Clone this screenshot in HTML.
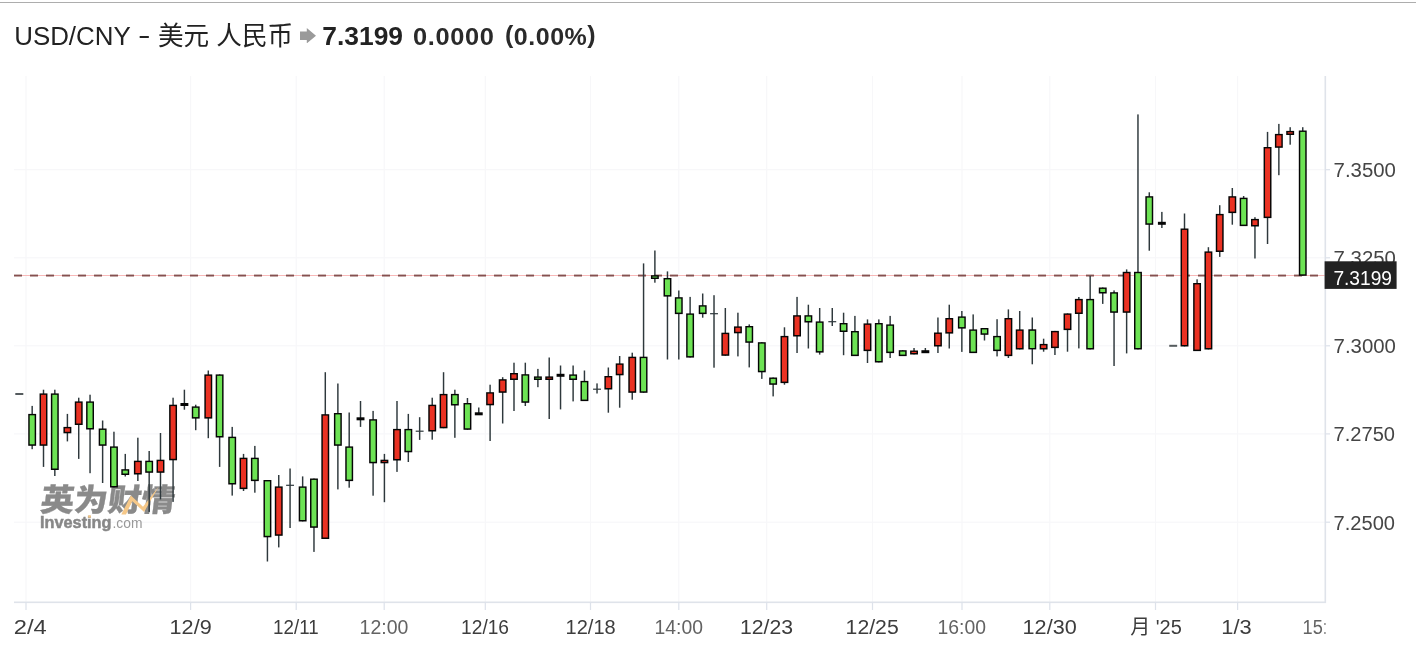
<!DOCTYPE html>
<html lang="zh-CN">
<head>
<meta charset="utf-8">
<title>USD/CNY - 美元 人民币</title>
<style>
html,body{margin:0;padding:0;background:#fff;}
body{width:1416px;height:654px;overflow:hidden;position:relative;font-family:"Liberation Sans","Noto Sans CJK SC",sans-serif;}
#topline{position:absolute;left:0;top:1.55px;width:1416px;height:1.1px;background:#adadad;}
#title{position:absolute;left:0;top:20px;height:32px;line-height:32px;white-space:nowrap;color:#222;font-size:25.9px;}
#title span,#title b{position:absolute;top:0;}
#title .sym{left:14.2px;}
#title .dash{left:138.1px;transform:scaleX(1.45);transform-origin:0 0;top:-1px;}
#title .cjk{font-size:25.6px;left:158px;top:-0.5px;}
#title b.px{font-size:26.4px;font-weight:700;left:322.3px;top:0.4px;}
#title b.chg{font-size:23.5px;font-weight:700;left:413.4px;top:1.2px;letter-spacing:0.6px;transform:scaleX(1.08);transform-origin:0 0;color:#2a2a2a;}
#title b.pct{font-size:23.5px;font-weight:700;left:504.6px;top:1.2px;letter-spacing:0.5px;transform:scaleX(1.063);transform-origin:0 0;color:#2a2a2a;}
#title i{font-style:normal;position:relative;top:-2.6px;}
#arrow{position:absolute;left:299.8px;top:27.8px;}
svg text{font-family:"Liberation Sans","Noto Sans CJK SC",sans-serif;font-size:20px;}
#chart{position:absolute;left:0;top:0;}
</style>
</head>
<body>
<div id="topline"></div>
<div id="title"><span class="sym">USD/CNY</span><span class="dash">-</span><span class="cjk">美元 人民币</span><b class="px">7.3199</b><b class="chg">0.0000</b><b class="pct"><i>(</i>0.00%<i>)</i></b></div>
<svg id="arrow" width="16" height="15.4" viewBox="0 0 16 15.4"><path d="M0 3.4h6.8V0l9.2 7.7-9.2 7.7v-3.4H0z" fill="#9a9a9a"/></svg>
<svg id="chart" width="1416" height="654" viewBox="0 0 1416 654">
<defs><clipPath id="plot"><rect x="14" y="70" width="1311.5" height="584"/></clipPath></defs>
<g id="grid">
<rect x="25.4" y="76" width="1.2" height="526" fill="#f7f7f9"/>
<rect x="190.0" y="76" width="1.2" height="526" fill="#f7f7f9"/>
<rect x="295.6" y="76" width="1.2" height="526" fill="#f7f7f9"/>
<rect x="383.6" y="76" width="1.2" height="526" fill="#f7f7f9"/>
<rect x="484.7" y="76" width="1.2" height="526" fill="#f7f7f9"/>
<rect x="589.9" y="76" width="1.2" height="526" fill="#f7f7f9"/>
<rect x="678.2" y="76" width="1.2" height="526" fill="#f7f7f9"/>
<rect x="766.1" y="76" width="1.2" height="526" fill="#f7f7f9"/>
<rect x="871.9" y="76" width="1.2" height="526" fill="#f7f7f9"/>
<rect x="961.4" y="76" width="1.2" height="526" fill="#f7f7f9"/>
<rect x="1049.2" y="76" width="1.2" height="526" fill="#f7f7f9"/>
<rect x="1154.9" y="76" width="1.2" height="526" fill="#f7f7f9"/>
<rect x="1237.0" y="76" width="1.2" height="526" fill="#f7f7f9"/>
<rect x="14" y="169.1" width="1311" height="1.2" fill="#f7f7f9"/>
<rect x="14" y="257.2" width="1311" height="1.2" fill="#f7f7f9"/>
<rect x="14" y="345.2" width="1311" height="1.2" fill="#f7f7f9"/>
<rect x="14" y="433.3" width="1311" height="1.2" fill="#f7f7f9"/>
<rect x="14" y="521.6" width="1311" height="1.2" fill="#f7f7f9"/>
</g>
<g id="wm">
<text x="39.5" y="511.3" fill="#8a8a8a" stroke="#8a8a8a" stroke-width="0.3" style="font-size:31px;font-weight:900;font-family:'Noto Sans CJK SC','Liberation Sans',sans-serif" transform="translate(39.5 511.3) skewX(-7) scale(1.085 1) translate(-39.5 -511.3)">英为财情</text>
<path d="M121.3 514.4 L130.9 495.5 L143 506.8 L158.8 486.5 L144.1 511.9 L132.3 501.2 L126 514.4z" fill="#f6c888"/>
<text x="40" y="528.4" fill="#878787" stroke="#878787" stroke-width="0.45" style="font-size:15.8px;font-weight:700" textLength="71.5" lengthAdjust="spacingAndGlyphs">Investing</text>
<text x="112.5" y="528.4" fill="#999" style="font-size:14.4px" textLength="30" lengthAdjust="spacingAndGlyphs">.com</text>
<rect x="88.2" y="515.3" width="2.6" height="2.4" fill="#f6c888"/>
</g>
<g id="priceline">
<rect x="14" y="275" width="1311" height="1" fill="#f8b9b9"/>
<rect x="14.0" y="274.6" width="8.0" height="1.9" fill="#85504f"/>
<rect x="30.0" y="274.6" width="8.0" height="1.9" fill="#85504f"/>
<rect x="46.0" y="274.6" width="8.0" height="1.9" fill="#85504f"/>
<rect x="62.0" y="274.6" width="8.0" height="1.9" fill="#85504f"/>
<rect x="78.0" y="274.6" width="8.0" height="1.9" fill="#85504f"/>
<rect x="94.0" y="274.6" width="8.0" height="1.9" fill="#85504f"/>
<rect x="110.0" y="274.6" width="8.0" height="1.9" fill="#85504f"/>
<rect x="126.0" y="274.6" width="8.0" height="1.9" fill="#85504f"/>
<rect x="142.0" y="274.6" width="8.0" height="1.9" fill="#85504f"/>
<rect x="158.0" y="274.6" width="8.0" height="1.9" fill="#85504f"/>
<rect x="174.0" y="274.6" width="8.0" height="1.9" fill="#85504f"/>
<rect x="190.0" y="274.6" width="8.0" height="1.9" fill="#85504f"/>
<rect x="206.0" y="274.6" width="8.0" height="1.9" fill="#85504f"/>
<rect x="222.0" y="274.6" width="8.0" height="1.9" fill="#85504f"/>
<rect x="238.0" y="274.6" width="8.0" height="1.9" fill="#85504f"/>
<rect x="254.0" y="274.6" width="8.0" height="1.9" fill="#85504f"/>
<rect x="270.0" y="274.6" width="8.0" height="1.9" fill="#85504f"/>
<rect x="286.0" y="274.6" width="8.0" height="1.9" fill="#85504f"/>
<rect x="302.0" y="274.6" width="8.0" height="1.9" fill="#85504f"/>
<rect x="318.0" y="274.6" width="8.0" height="1.9" fill="#85504f"/>
<rect x="334.0" y="274.6" width="8.0" height="1.9" fill="#85504f"/>
<rect x="350.0" y="274.6" width="8.0" height="1.9" fill="#85504f"/>
<rect x="366.0" y="274.6" width="8.0" height="1.9" fill="#85504f"/>
<rect x="382.0" y="274.6" width="8.0" height="1.9" fill="#85504f"/>
<rect x="398.0" y="274.6" width="8.0" height="1.9" fill="#85504f"/>
<rect x="414.0" y="274.6" width="8.0" height="1.9" fill="#85504f"/>
<rect x="430.0" y="274.6" width="8.0" height="1.9" fill="#85504f"/>
<rect x="446.0" y="274.6" width="8.0" height="1.9" fill="#85504f"/>
<rect x="462.0" y="274.6" width="8.0" height="1.9" fill="#85504f"/>
<rect x="478.0" y="274.6" width="8.0" height="1.9" fill="#85504f"/>
<rect x="494.0" y="274.6" width="8.0" height="1.9" fill="#85504f"/>
<rect x="510.0" y="274.6" width="8.0" height="1.9" fill="#85504f"/>
<rect x="526.0" y="274.6" width="8.0" height="1.9" fill="#85504f"/>
<rect x="542.0" y="274.6" width="8.0" height="1.9" fill="#85504f"/>
<rect x="558.0" y="274.6" width="8.0" height="1.9" fill="#85504f"/>
<rect x="574.0" y="274.6" width="8.0" height="1.9" fill="#85504f"/>
<rect x="590.0" y="274.6" width="8.0" height="1.9" fill="#85504f"/>
<rect x="606.0" y="274.6" width="8.0" height="1.9" fill="#85504f"/>
<rect x="622.0" y="274.6" width="8.0" height="1.9" fill="#85504f"/>
<rect x="638.0" y="274.6" width="8.0" height="1.9" fill="#85504f"/>
<rect x="654.0" y="274.6" width="8.0" height="1.9" fill="#85504f"/>
<rect x="670.0" y="274.6" width="8.0" height="1.9" fill="#85504f"/>
<rect x="686.0" y="274.6" width="8.0" height="1.9" fill="#85504f"/>
<rect x="702.0" y="274.6" width="8.0" height="1.9" fill="#85504f"/>
<rect x="718.0" y="274.6" width="8.0" height="1.9" fill="#85504f"/>
<rect x="734.0" y="274.6" width="8.0" height="1.9" fill="#85504f"/>
<rect x="750.0" y="274.6" width="8.0" height="1.9" fill="#85504f"/>
<rect x="766.0" y="274.6" width="8.0" height="1.9" fill="#85504f"/>
<rect x="782.0" y="274.6" width="8.0" height="1.9" fill="#85504f"/>
<rect x="798.0" y="274.6" width="8.0" height="1.9" fill="#85504f"/>
<rect x="814.0" y="274.6" width="8.0" height="1.9" fill="#85504f"/>
<rect x="830.0" y="274.6" width="8.0" height="1.9" fill="#85504f"/>
<rect x="846.0" y="274.6" width="8.0" height="1.9" fill="#85504f"/>
<rect x="862.0" y="274.6" width="8.0" height="1.9" fill="#85504f"/>
<rect x="878.0" y="274.6" width="8.0" height="1.9" fill="#85504f"/>
<rect x="894.0" y="274.6" width="8.0" height="1.9" fill="#85504f"/>
<rect x="910.0" y="274.6" width="8.0" height="1.9" fill="#85504f"/>
<rect x="926.0" y="274.6" width="8.0" height="1.9" fill="#85504f"/>
<rect x="942.0" y="274.6" width="8.0" height="1.9" fill="#85504f"/>
<rect x="958.0" y="274.6" width="8.0" height="1.9" fill="#85504f"/>
<rect x="974.0" y="274.6" width="8.0" height="1.9" fill="#85504f"/>
<rect x="990.0" y="274.6" width="8.0" height="1.9" fill="#85504f"/>
<rect x="1006.0" y="274.6" width="8.0" height="1.9" fill="#85504f"/>
<rect x="1022.0" y="274.6" width="8.0" height="1.9" fill="#85504f"/>
<rect x="1038.0" y="274.6" width="8.0" height="1.9" fill="#85504f"/>
<rect x="1054.0" y="274.6" width="8.0" height="1.9" fill="#85504f"/>
<rect x="1070.0" y="274.6" width="8.0" height="1.9" fill="#85504f"/>
<rect x="1086.0" y="274.6" width="8.0" height="1.9" fill="#85504f"/>
<rect x="1102.0" y="274.6" width="8.0" height="1.9" fill="#85504f"/>
<rect x="1118.0" y="274.6" width="8.0" height="1.9" fill="#85504f"/>
<rect x="1134.0" y="274.6" width="8.0" height="1.9" fill="#85504f"/>
<rect x="1150.0" y="274.6" width="8.0" height="1.9" fill="#85504f"/>
<rect x="1166.0" y="274.6" width="8.0" height="1.9" fill="#85504f"/>
<rect x="1182.0" y="274.6" width="8.0" height="1.9" fill="#85504f"/>
<rect x="1198.0" y="274.6" width="8.0" height="1.9" fill="#85504f"/>
<rect x="1214.0" y="274.6" width="8.0" height="1.9" fill="#85504f"/>
<rect x="1230.0" y="274.6" width="8.0" height="1.9" fill="#85504f"/>
<rect x="1246.0" y="274.6" width="8.0" height="1.9" fill="#85504f"/>
<rect x="1262.0" y="274.6" width="8.0" height="1.9" fill="#85504f"/>
<rect x="1278.0" y="274.6" width="8.0" height="1.9" fill="#85504f"/>
<rect x="1294.0" y="274.6" width="8.0" height="1.9" fill="#85504f"/>
<rect x="1310.0" y="274.6" width="8.0" height="1.9" fill="#85504f"/>
</g>
<g id="candles" clip-path="url(#plot)">
<rect x="15.3" y="393" width="8" height="2" fill="#555b5e"/>
<rect x="31.45" y="405.9" width="1.45" height="43.3" fill="#2e383c"/>
<rect x="28.23" y="413.9" width="7.9" height="31.9" fill="#050505"/>
<rect x="29.68" y="415.3" width="5.00" height="29.0" fill="#6de354"/>
<rect x="42.78" y="389.7" width="1.45" height="77.2" fill="#2e383c"/>
<rect x="39.55" y="393.4" width="7.9" height="52.4" fill="#050505"/>
<rect x="41.00" y="394.8" width="5.00" height="49.5" fill="#ea3223"/>
<rect x="54.10" y="389.7" width="1.45" height="86.3" fill="#2e383c"/>
<rect x="50.87" y="393.4" width="7.9" height="76.6" fill="#050505"/>
<rect x="52.32" y="394.8" width="5.00" height="73.7" fill="#6de354"/>
<rect x="66.68" y="413.9" width="1.45" height="27.5" fill="#2e383c"/>
<rect x="63.45" y="426.9" width="7.9" height="6.4" fill="#050505"/>
<rect x="64.90" y="428.3" width="5.00" height="3.5" fill="#ea3223"/>
<rect x="78.00" y="397.7" width="1.45" height="61.2" fill="#2e383c"/>
<rect x="74.78" y="401.4" width="7.9" height="23.6" fill="#050505"/>
<rect x="76.23" y="402.8" width="5.00" height="20.7" fill="#ea3223"/>
<rect x="89.32" y="394.7" width="1.45" height="78.5" fill="#2e383c"/>
<rect x="86.10" y="401.4" width="7.9" height="28.1" fill="#050505"/>
<rect x="87.55" y="402.8" width="5.00" height="25.2" fill="#6de354"/>
<rect x="101.90" y="420.5" width="1.45" height="62.5" fill="#2e383c"/>
<rect x="98.68" y="428.5" width="7.9" height="17.3" fill="#050505"/>
<rect x="100.13" y="429.9" width="5.00" height="14.4" fill="#6de354"/>
<rect x="113.22" y="431.7" width="1.45" height="55.7" fill="#2e383c"/>
<rect x="110.00" y="446.4" width="7.9" height="41.1" fill="#050505"/>
<rect x="111.45" y="447.8" width="5.00" height="38.2" fill="#6de354"/>
<rect x="124.55" y="453.9" width="1.45" height="22.6" fill="#2e383c"/>
<rect x="121.32" y="469.2" width="7.9" height="5.8" fill="#050505"/>
<rect x="122.77" y="470.6" width="5.00" height="2.9" fill="#6de354"/>
<rect x="137.13" y="437.7" width="1.45" height="43.3" fill="#2e383c"/>
<rect x="133.90" y="460.7" width="7.9" height="13.8" fill="#050505"/>
<rect x="135.35" y="462.1" width="5.00" height="10.9" fill="#ea3223"/>
<rect x="148.45" y="451.0" width="1.45" height="60.9" fill="#2e383c"/>
<rect x="145.22" y="460.7" width="7.9" height="12.1" fill="#050505"/>
<rect x="146.67" y="462.1" width="5.00" height="9.2" fill="#6de354"/>
<rect x="159.77" y="433.0" width="1.45" height="66.4" fill="#2e383c"/>
<rect x="156.55" y="459.7" width="7.9" height="13.1" fill="#050505"/>
<rect x="158.00" y="461.1" width="5.00" height="10.2" fill="#ea3223"/>
<rect x="172.35" y="397.7" width="1.45" height="104.2" fill="#2e383c"/>
<rect x="169.13" y="404.7" width="7.9" height="55.6" fill="#050505"/>
<rect x="170.58" y="406.1" width="5.00" height="52.7" fill="#ea3223"/>
<rect x="183.67" y="389.7" width="1.45" height="20.0" fill="#2e383c"/>
<rect x="180.45" y="403.0" width="7.9" height="3" fill="#050505"/>
<rect x="194.99" y="404.7" width="1.45" height="25.5" fill="#2e383c"/>
<rect x="191.77" y="406.4" width="7.9" height="12.2" fill="#050505"/>
<rect x="193.22" y="407.8" width="5.00" height="9.3" fill="#6de354"/>
<rect x="207.57" y="370.5" width="1.45" height="67.7" fill="#2e383c"/>
<rect x="204.35" y="374.4" width="7.9" height="44.2" fill="#050505"/>
<rect x="205.80" y="375.8" width="5.00" height="41.3" fill="#ea3223"/>
<rect x="218.90" y="374.4" width="1.45" height="92.5" fill="#2e383c"/>
<rect x="215.67" y="374.4" width="7.9" height="63.1" fill="#050505"/>
<rect x="217.12" y="375.8" width="5.00" height="60.2" fill="#6de354"/>
<rect x="231.48" y="426.9" width="1.45" height="68.7" fill="#2e383c"/>
<rect x="228.25" y="436.7" width="7.9" height="47.8" fill="#050505"/>
<rect x="229.70" y="438.1" width="5.00" height="44.9" fill="#6de354"/>
<rect x="242.80" y="453.9" width="1.45" height="37.1" fill="#2e383c"/>
<rect x="239.57" y="457.7" width="7.9" height="31.4" fill="#050505"/>
<rect x="241.02" y="459.1" width="5.00" height="28.5" fill="#ea3223"/>
<rect x="254.12" y="445.9" width="1.45" height="46.8" fill="#2e383c"/>
<rect x="250.90" y="457.7" width="7.9" height="23.4" fill="#050505"/>
<rect x="252.35" y="459.1" width="5.00" height="20.5" fill="#6de354"/>
<rect x="266.70" y="480.0" width="1.45" height="81.5" fill="#2e383c"/>
<rect x="263.48" y="480.0" width="7.9" height="57.3" fill="#050505"/>
<rect x="264.93" y="481.4" width="5.00" height="54.4" fill="#6de354"/>
<rect x="278.02" y="475.0" width="1.45" height="72.4" fill="#2e383c"/>
<rect x="274.80" y="486.4" width="7.9" height="49.4" fill="#050505"/>
<rect x="276.25" y="487.8" width="5.00" height="46.5" fill="#ea3223"/>
<rect x="289.34" y="468.5" width="1.45" height="59.5" fill="#2e383c"/>
<rect x="286.12" y="484.7" width="7.9" height="1.2" fill="#2e383c"/>
<rect x="301.92" y="476.4" width="1.45" height="45.0" fill="#2e383c"/>
<rect x="298.70" y="486.4" width="7.9" height="35.1" fill="#050505"/>
<rect x="300.15" y="487.8" width="5.00" height="32.2" fill="#6de354"/>
<rect x="313.25" y="478.5" width="1.45" height="73.4" fill="#2e383c"/>
<rect x="310.02" y="478.5" width="7.9" height="49.3" fill="#050505"/>
<rect x="311.47" y="479.9" width="5.00" height="46.4" fill="#6de354"/>
<rect x="324.57" y="372.2" width="1.45" height="166.7" fill="#2e383c"/>
<rect x="321.34" y="414.2" width="7.9" height="124.8" fill="#050505"/>
<rect x="322.79" y="415.6" width="5.00" height="121.9" fill="#ea3223"/>
<rect x="337.15" y="383.5" width="1.45" height="105.9" fill="#2e383c"/>
<rect x="333.92" y="413.0" width="7.9" height="32.8" fill="#050505"/>
<rect x="335.37" y="414.4" width="5.00" height="29.9" fill="#6de354"/>
<rect x="348.47" y="412.5" width="1.45" height="75.2" fill="#2e383c"/>
<rect x="345.25" y="446.4" width="7.9" height="34.7" fill="#050505"/>
<rect x="346.70" y="447.8" width="5.00" height="31.8" fill="#6de354"/>
<rect x="359.79" y="401.0" width="1.45" height="25.9" fill="#2e383c"/>
<rect x="356.57" y="417.3" width="7.9" height="3" fill="#050505"/>
<rect x="372.37" y="410.9" width="1.45" height="84.8" fill="#2e383c"/>
<rect x="369.15" y="419.2" width="7.9" height="44.1" fill="#050505"/>
<rect x="370.60" y="420.6" width="5.00" height="41.2" fill="#6de354"/>
<rect x="383.69" y="453.9" width="1.45" height="48.3" fill="#2e383c"/>
<rect x="380.47" y="459.7" width="7.9" height="3.6" fill="#050505"/>
<rect x="381.92" y="461.1" width="5.00" height="0.7" fill="#ea3223"/>
<rect x="396.27" y="401.0" width="1.45" height="70.9" fill="#2e383c"/>
<rect x="393.05" y="428.9" width="7.9" height="31.6" fill="#050505"/>
<rect x="394.50" y="430.3" width="5.00" height="28.7" fill="#ea3223"/>
<rect x="407.60" y="413.9" width="1.45" height="48.1" fill="#2e383c"/>
<rect x="404.37" y="428.9" width="7.9" height="23.4" fill="#050505"/>
<rect x="405.82" y="430.3" width="5.00" height="20.5" fill="#6de354"/>
<rect x="418.92" y="417.2" width="1.45" height="22.7" fill="#2e383c"/>
<rect x="415.69" y="430.6" width="7.9" height="1.2" fill="#2e383c"/>
<rect x="431.50" y="397.7" width="1.45" height="42.0" fill="#2e383c"/>
<rect x="428.27" y="404.7" width="7.9" height="26.8" fill="#050505"/>
<rect x="429.72" y="406.1" width="5.00" height="23.9" fill="#ea3223"/>
<rect x="442.82" y="372.2" width="1.45" height="56.0" fill="#2e383c"/>
<rect x="439.60" y="393.9" width="7.9" height="34.4" fill="#050505"/>
<rect x="441.05" y="395.3" width="5.00" height="31.5" fill="#ea3223"/>
<rect x="454.14" y="389.7" width="1.45" height="48.1" fill="#2e383c"/>
<rect x="450.92" y="393.9" width="7.9" height="11.6" fill="#050505"/>
<rect x="452.37" y="395.3" width="5.00" height="8.7" fill="#6de354"/>
<rect x="466.72" y="398.0" width="1.45" height="31.7" fill="#2e383c"/>
<rect x="463.50" y="403.0" width="7.9" height="26.8" fill="#050505"/>
<rect x="464.95" y="404.4" width="5.00" height="23.9" fill="#6de354"/>
<rect x="478.04" y="407.5" width="1.45" height="6.5" fill="#2e383c"/>
<rect x="474.82" y="412.3" width="7.9" height="3" fill="#050505"/>
<rect x="489.37" y="384.7" width="1.45" height="56.3" fill="#2e383c"/>
<rect x="486.14" y="392.2" width="7.9" height="13.1" fill="#050505"/>
<rect x="487.59" y="393.6" width="5.00" height="10.2" fill="#ea3223"/>
<rect x="501.95" y="377.2" width="1.45" height="46.3" fill="#2e383c"/>
<rect x="498.72" y="379.2" width="7.9" height="13.6" fill="#050505"/>
<rect x="500.17" y="380.6" width="5.00" height="10.7" fill="#ea3223"/>
<rect x="513.27" y="362.7" width="1.45" height="48.3" fill="#2e383c"/>
<rect x="510.04" y="373.0" width="7.9" height="7.0" fill="#050505"/>
<rect x="511.49" y="374.4" width="5.00" height="4.1" fill="#ea3223"/>
<rect x="524.59" y="362.7" width="1.45" height="43.3" fill="#2e383c"/>
<rect x="521.37" y="374.2" width="7.9" height="28.6" fill="#050505"/>
<rect x="522.82" y="375.6" width="5.00" height="25.7" fill="#6de354"/>
<rect x="537.17" y="368.9" width="1.45" height="18.3" fill="#2e383c"/>
<rect x="533.95" y="376.4" width="7.9" height="3.6" fill="#050505"/>
<rect x="535.40" y="377.8" width="5.00" height="0.7" fill="#6de354"/>
<rect x="548.49" y="357.5" width="1.45" height="61.5" fill="#2e383c"/>
<rect x="545.27" y="376.4" width="7.9" height="3.6" fill="#050505"/>
<rect x="546.72" y="377.8" width="5.00" height="0.7" fill="#ea3223"/>
<rect x="559.81" y="365.5" width="1.45" height="43.9" fill="#2e383c"/>
<rect x="556.59" y="373.8" width="7.9" height="3" fill="#050505"/>
<rect x="572.39" y="365.5" width="1.45" height="35.9" fill="#2e383c"/>
<rect x="569.17" y="374.4" width="7.9" height="5.6" fill="#050505"/>
<rect x="570.62" y="375.8" width="5.00" height="2.7" fill="#6de354"/>
<rect x="583.72" y="370.5" width="1.45" height="30.5" fill="#2e383c"/>
<rect x="580.49" y="380.9" width="7.9" height="20.2" fill="#050505"/>
<rect x="581.94" y="382.3" width="5.00" height="17.3" fill="#6de354"/>
<rect x="596.30" y="383.4" width="1.45" height="10.1" fill="#2e383c"/>
<rect x="593.07" y="388.6" width="7.9" height="1.2" fill="#2e383c"/>
<rect x="607.62" y="367.5" width="1.45" height="45.2" fill="#2e383c"/>
<rect x="604.39" y="376.0" width="7.9" height="13.5" fill="#050505"/>
<rect x="605.84" y="377.4" width="5.00" height="10.6" fill="#ea3223"/>
<rect x="618.94" y="356.0" width="1.45" height="51.7" fill="#2e383c"/>
<rect x="615.72" y="363.4" width="7.9" height="11.9" fill="#050505"/>
<rect x="617.17" y="364.8" width="5.00" height="9.0" fill="#ea3223"/>
<rect x="631.52" y="352.7" width="1.45" height="47.0" fill="#2e383c"/>
<rect x="628.30" y="356.7" width="7.9" height="36.1" fill="#050505"/>
<rect x="629.75" y="358.1" width="5.00" height="33.2" fill="#ea3223"/>
<rect x="642.84" y="263.4" width="1.45" height="129.3" fill="#2e383c"/>
<rect x="639.62" y="356.7" width="7.9" height="36.1" fill="#050505"/>
<rect x="641.07" y="358.1" width="5.00" height="33.2" fill="#6de354"/>
<rect x="654.16" y="250.5" width="1.45" height="32.2" fill="#2e383c"/>
<rect x="650.94" y="275.2" width="7.9" height="3.8" fill="#050505"/>
<rect x="652.39" y="276.6" width="5.00" height="0.9" fill="#6de354"/>
<rect x="666.74" y="271.4" width="1.45" height="88.1" fill="#2e383c"/>
<rect x="663.52" y="278.0" width="7.9" height="18.6" fill="#050505"/>
<rect x="664.97" y="279.4" width="5.00" height="15.7" fill="#6de354"/>
<rect x="678.07" y="290.5" width="1.45" height="69.0" fill="#2e383c"/>
<rect x="674.84" y="297.2" width="7.9" height="16.9" fill="#050505"/>
<rect x="676.29" y="298.6" width="5.00" height="14.0" fill="#6de354"/>
<rect x="689.39" y="296.9" width="1.45" height="60.6" fill="#2e383c"/>
<rect x="686.16" y="313.4" width="7.9" height="44.2" fill="#050505"/>
<rect x="687.61" y="314.8" width="5.00" height="41.3" fill="#6de354"/>
<rect x="701.97" y="293.5" width="1.45" height="24.2" fill="#2e383c"/>
<rect x="698.74" y="305.2" width="7.9" height="8.9" fill="#050505"/>
<rect x="700.19" y="306.6" width="5.00" height="6.0" fill="#6de354"/>
<rect x="713.29" y="295.2" width="1.45" height="72.5" fill="#2e383c"/>
<rect x="710.07" y="313.1" width="7.9" height="1.2" fill="#2e383c"/>
<rect x="724.61" y="308.0" width="1.45" height="47.7" fill="#2e383c"/>
<rect x="721.39" y="332.7" width="7.9" height="23.1" fill="#050505"/>
<rect x="722.84" y="334.1" width="5.00" height="20.2" fill="#ea3223"/>
<rect x="737.19" y="312.7" width="1.45" height="43.7" fill="#2e383c"/>
<rect x="733.97" y="326.4" width="7.9" height="6.9" fill="#050505"/>
<rect x="735.42" y="327.8" width="5.00" height="4.0" fill="#ea3223"/>
<rect x="748.51" y="324.4" width="1.45" height="43.0" fill="#2e383c"/>
<rect x="745.29" y="326.0" width="7.9" height="16.8" fill="#050505"/>
<rect x="746.74" y="327.4" width="5.00" height="13.9" fill="#6de354"/>
<rect x="761.09" y="342.2" width="1.45" height="36.7" fill="#2e383c"/>
<rect x="757.87" y="342.2" width="7.9" height="30.1" fill="#050505"/>
<rect x="759.32" y="343.6" width="5.00" height="27.2" fill="#6de354"/>
<rect x="772.42" y="377.5" width="1.45" height="18.9" fill="#2e383c"/>
<rect x="769.19" y="377.5" width="7.9" height="7.3" fill="#050505"/>
<rect x="770.64" y="378.9" width="5.00" height="4.4" fill="#6de354"/>
<rect x="783.74" y="327.3" width="1.45" height="57.4" fill="#2e383c"/>
<rect x="780.51" y="335.9" width="7.9" height="47.2" fill="#050505"/>
<rect x="781.96" y="337.3" width="5.00" height="44.3" fill="#ea3223"/>
<rect x="796.32" y="296.9" width="1.45" height="56.1" fill="#2e383c"/>
<rect x="793.09" y="315.2" width="7.9" height="21.3" fill="#050505"/>
<rect x="794.54" y="316.6" width="5.00" height="18.4" fill="#ea3223"/>
<rect x="807.64" y="304.7" width="1.45" height="43.8" fill="#2e383c"/>
<rect x="804.42" y="315.2" width="7.9" height="7.3" fill="#050505"/>
<rect x="805.87" y="316.6" width="5.00" height="4.4" fill="#6de354"/>
<rect x="818.96" y="308.0" width="1.45" height="46.6" fill="#2e383c"/>
<rect x="815.74" y="321.4" width="7.9" height="31.2" fill="#050505"/>
<rect x="817.19" y="322.8" width="5.00" height="28.3" fill="#6de354"/>
<rect x="831.54" y="308.0" width="1.45" height="18.0" fill="#2e383c"/>
<rect x="828.32" y="321.1" width="7.9" height="1.2" fill="#2e383c"/>
<rect x="842.86" y="312.7" width="1.45" height="42.5" fill="#2e383c"/>
<rect x="839.64" y="323.0" width="7.9" height="9.0" fill="#050505"/>
<rect x="841.09" y="324.4" width="5.00" height="6.1" fill="#6de354"/>
<rect x="854.19" y="315.9" width="1.45" height="40.1" fill="#2e383c"/>
<rect x="850.96" y="331.0" width="7.9" height="25.1" fill="#050505"/>
<rect x="852.41" y="332.4" width="5.00" height="22.2" fill="#6de354"/>
<rect x="866.77" y="319.4" width="1.45" height="43.6" fill="#2e383c"/>
<rect x="863.54" y="323.4" width="7.9" height="27.7" fill="#050505"/>
<rect x="864.99" y="324.8" width="5.00" height="24.8" fill="#ea3223"/>
<rect x="878.09" y="319.4" width="1.45" height="43.0" fill="#2e383c"/>
<rect x="874.86" y="323.0" width="7.9" height="39.5" fill="#050505"/>
<rect x="876.31" y="324.4" width="5.00" height="36.6" fill="#6de354"/>
<rect x="889.41" y="315.9" width="1.45" height="42.1" fill="#2e383c"/>
<rect x="886.19" y="324.4" width="7.9" height="28.7" fill="#050505"/>
<rect x="887.64" y="325.8" width="5.00" height="25.8" fill="#6de354"/>
<rect x="901.99" y="350.2" width="1.45" height="5.8" fill="#2e383c"/>
<rect x="898.77" y="350.2" width="7.9" height="5.9" fill="#050505"/>
<rect x="900.22" y="351.6" width="5.00" height="3.0" fill="#6de354"/>
<rect x="913.31" y="348.0" width="1.45" height="6.4" fill="#2e383c"/>
<rect x="910.09" y="350.5" width="7.9" height="4.0" fill="#050505"/>
<rect x="911.54" y="351.9" width="5.00" height="1.1" fill="#ea3223"/>
<rect x="924.63" y="348.0" width="1.45" height="3.9" fill="#2e383c"/>
<rect x="921.41" y="350.2" width="7.9" height="3" fill="#050505"/>
<rect x="937.21" y="317.5" width="1.45" height="35.5" fill="#2e383c"/>
<rect x="933.99" y="332.5" width="7.9" height="14.0" fill="#050505"/>
<rect x="935.44" y="333.9" width="5.00" height="11.1" fill="#ea3223"/>
<rect x="948.54" y="304.7" width="1.45" height="43.8" fill="#2e383c"/>
<rect x="945.31" y="318.0" width="7.9" height="15.6" fill="#050505"/>
<rect x="946.76" y="319.4" width="5.00" height="12.7" fill="#ea3223"/>
<rect x="961.12" y="311.0" width="1.45" height="40.9" fill="#2e383c"/>
<rect x="957.89" y="316.4" width="7.9" height="12.2" fill="#050505"/>
<rect x="959.34" y="317.8" width="5.00" height="9.3" fill="#6de354"/>
<rect x="972.44" y="314.4" width="1.45" height="38.6" fill="#2e383c"/>
<rect x="969.21" y="329.4" width="7.9" height="23.7" fill="#050505"/>
<rect x="970.66" y="330.8" width="5.00" height="20.8" fill="#6de354"/>
<rect x="983.76" y="328.0" width="1.45" height="12.5" fill="#2e383c"/>
<rect x="980.54" y="328.0" width="7.9" height="6.8" fill="#050505"/>
<rect x="981.99" y="329.4" width="5.00" height="3.9" fill="#6de354"/>
<rect x="996.34" y="319.2" width="1.45" height="37.2" fill="#2e383c"/>
<rect x="993.12" y="335.9" width="7.9" height="15.2" fill="#050505"/>
<rect x="994.57" y="337.3" width="5.00" height="12.3" fill="#6de354"/>
<rect x="1007.66" y="309.4" width="1.45" height="48.6" fill="#2e383c"/>
<rect x="1004.44" y="318.0" width="7.9" height="38.1" fill="#050505"/>
<rect x="1005.89" y="319.4" width="5.00" height="35.2" fill="#ea3223"/>
<rect x="1018.98" y="311.0" width="1.45" height="38.4" fill="#2e383c"/>
<rect x="1015.76" y="329.4" width="7.9" height="20.1" fill="#050505"/>
<rect x="1017.21" y="330.8" width="5.00" height="17.2" fill="#ea3223"/>
<rect x="1031.56" y="317.5" width="1.45" height="46.8" fill="#2e383c"/>
<rect x="1028.34" y="329.3" width="7.9" height="20.1" fill="#050505"/>
<rect x="1029.79" y="330.8" width="5.00" height="17.2" fill="#6de354"/>
<rect x="1042.89" y="338.7" width="1.45" height="13.0" fill="#2e383c"/>
<rect x="1039.66" y="343.9" width="7.9" height="5.6" fill="#050505"/>
<rect x="1041.11" y="345.3" width="5.00" height="2.7" fill="#ea3223"/>
<rect x="1054.21" y="330.9" width="1.45" height="24.1" fill="#2e383c"/>
<rect x="1050.98" y="330.9" width="7.9" height="17.2" fill="#050505"/>
<rect x="1052.43" y="332.3" width="5.00" height="14.3" fill="#ea3223"/>
<rect x="1066.79" y="313.4" width="1.45" height="38.3" fill="#2e383c"/>
<rect x="1063.56" y="313.4" width="7.9" height="16.7" fill="#050505"/>
<rect x="1065.01" y="314.8" width="5.00" height="13.8" fill="#ea3223"/>
<rect x="1078.11" y="297.0" width="1.45" height="51.4" fill="#2e383c"/>
<rect x="1074.89" y="298.9" width="7.9" height="15.1" fill="#050505"/>
<rect x="1076.34" y="300.3" width="5.00" height="12.2" fill="#ea3223"/>
<rect x="1089.43" y="275.9" width="1.45" height="73.5" fill="#2e383c"/>
<rect x="1086.21" y="298.9" width="7.9" height="50.6" fill="#050505"/>
<rect x="1087.66" y="300.3" width="5.00" height="47.7" fill="#6de354"/>
<rect x="1102.01" y="287.5" width="1.45" height="16.4" fill="#2e383c"/>
<rect x="1098.79" y="287.5" width="7.9" height="6.0" fill="#050505"/>
<rect x="1100.24" y="288.9" width="5.00" height="3.1" fill="#6de354"/>
<rect x="1113.33" y="290.4" width="1.45" height="75.6" fill="#2e383c"/>
<rect x="1110.11" y="292.2" width="7.9" height="20.6" fill="#050505"/>
<rect x="1111.56" y="293.6" width="5.00" height="17.7" fill="#6de354"/>
<rect x="1125.91" y="269.4" width="1.45" height="84.0" fill="#2e383c"/>
<rect x="1122.69" y="271.8" width="7.9" height="41.0" fill="#050505"/>
<rect x="1124.14" y="273.2" width="5.00" height="38.1" fill="#ea3223"/>
<rect x="1137.24" y="114.4" width="1.45" height="235.0" fill="#2e383c"/>
<rect x="1134.01" y="271.8" width="7.9" height="77.7" fill="#050505"/>
<rect x="1135.46" y="273.2" width="5.00" height="74.8" fill="#6de354"/>
<rect x="1148.56" y="192.3" width="1.45" height="58.4" fill="#2e383c"/>
<rect x="1145.33" y="196.2" width="7.9" height="28.6" fill="#050505"/>
<rect x="1146.78" y="197.6" width="5.00" height="25.7" fill="#6de354"/>
<rect x="1161.14" y="211.9" width="1.45" height="16.1" fill="#2e383c"/>
<rect x="1157.91" y="221.8" width="7.9" height="3" fill="#050505"/>
<rect x="1169.24" y="344.8" width="7.9" height="2" fill="#555b5e"/>
<rect x="1183.78" y="213.5" width="1.45" height="132.9" fill="#2e383c"/>
<rect x="1180.56" y="228.5" width="7.9" height="118.0" fill="#050505"/>
<rect x="1182.01" y="229.9" width="5.00" height="115.1" fill="#ea3223"/>
<rect x="1196.36" y="279.3" width="1.45" height="71.7" fill="#2e383c"/>
<rect x="1193.14" y="283.0" width="7.9" height="68.1" fill="#050505"/>
<rect x="1194.59" y="284.4" width="5.00" height="65.2" fill="#ea3223"/>
<rect x="1207.68" y="247.2" width="1.45" height="102.2" fill="#2e383c"/>
<rect x="1204.46" y="251.4" width="7.9" height="98.1" fill="#050505"/>
<rect x="1205.91" y="252.8" width="5.00" height="95.2" fill="#ea3223"/>
<rect x="1219.01" y="205.2" width="1.45" height="51.7" fill="#2e383c"/>
<rect x="1215.78" y="213.9" width="7.9" height="38.1" fill="#050505"/>
<rect x="1217.23" y="215.3" width="5.00" height="35.2" fill="#ea3223"/>
<rect x="1231.59" y="188.0" width="1.45" height="36.7" fill="#2e383c"/>
<rect x="1228.36" y="196.2" width="7.9" height="16.9" fill="#050505"/>
<rect x="1229.81" y="197.6" width="5.00" height="14.0" fill="#ea3223"/>
<rect x="1242.91" y="196.0" width="1.45" height="30.0" fill="#2e383c"/>
<rect x="1239.68" y="197.7" width="7.9" height="28.4" fill="#050505"/>
<rect x="1241.13" y="199.1" width="5.00" height="25.5" fill="#6de354"/>
<rect x="1254.23" y="217.2" width="1.45" height="41.3" fill="#2e383c"/>
<rect x="1251.01" y="218.9" width="7.9" height="7.6" fill="#050505"/>
<rect x="1252.46" y="220.3" width="5.00" height="4.7" fill="#ea3223"/>
<rect x="1266.81" y="131.9" width="1.45" height="112.1" fill="#2e383c"/>
<rect x="1263.59" y="147.0" width="7.9" height="71.1" fill="#050505"/>
<rect x="1265.04" y="148.4" width="5.00" height="68.2" fill="#ea3223"/>
<rect x="1278.13" y="123.9" width="1.45" height="51.3" fill="#2e383c"/>
<rect x="1274.91" y="133.9" width="7.9" height="13.9" fill="#050505"/>
<rect x="1276.36" y="135.3" width="5.00" height="11.0" fill="#ea3223"/>
<rect x="1289.45" y="127.2" width="1.45" height="17.5" fill="#2e383c"/>
<rect x="1286.23" y="130.9" width="7.9" height="4.1" fill="#050505"/>
<rect x="1287.68" y="132.3" width="5.00" height="1.2" fill="#ea3223"/>
<rect x="1302.03" y="127.2" width="1.45" height="148.5" fill="#2e383c"/>
<rect x="1298.81" y="130.5" width="7.9" height="145.3" fill="#050505"/>
<rect x="1300.26" y="131.9" width="5.00" height="142.4" fill="#6de354"/>
</g>
<g id="axis">
<rect x="1324.5" y="76" width="1.6" height="527" fill="#dfe3ea"/>
<rect x="14" y="601.5" width="1312" height="1.6" fill="#dfe3ea"/>
<rect x="25.4" y="602" width="1.2" height="8" fill="#dde2ea"/>
<rect x="190.0" y="602" width="1.2" height="8" fill="#dde2ea"/>
<rect x="295.6" y="602" width="1.2" height="8" fill="#dde2ea"/>
<rect x="383.6" y="602" width="1.2" height="8" fill="#dde2ea"/>
<rect x="484.7" y="602" width="1.2" height="8" fill="#dde2ea"/>
<rect x="589.9" y="602" width="1.2" height="8" fill="#dde2ea"/>
<rect x="678.2" y="602" width="1.2" height="8" fill="#dde2ea"/>
<rect x="766.1" y="602" width="1.2" height="8" fill="#dde2ea"/>
<rect x="871.9" y="602" width="1.2" height="8" fill="#dde2ea"/>
<rect x="961.4" y="602" width="1.2" height="8" fill="#dde2ea"/>
<rect x="1049.2" y="602" width="1.2" height="8" fill="#dde2ea"/>
<rect x="1154.9" y="602" width="1.2" height="8" fill="#dde2ea"/>
<rect x="1237.0" y="602" width="1.2" height="8" fill="#dde2ea"/>
<rect x="1325" y="169.1" width="5" height="1.2" fill="#dde2ea"/>
<rect x="1325" y="257.2" width="5" height="1.2" fill="#dde2ea"/>
<rect x="1325" y="345.2" width="5" height="1.2" fill="#dde2ea"/>
<rect x="1325" y="433.3" width="5" height="1.2" fill="#dde2ea"/>
<rect x="1325" y="521.6" width="5" height="1.2" fill="#dde2ea"/>
</g>
<g id="xlabels" clip-path="url(#plot)">
<text x="13.7" y="633.7" fill="#3d3d3d" textLength="33" lengthAdjust="spacingAndGlyphs">2/4</text>
<text x="169.6" y="633.7" fill="#3d3d3d" textLength="42.1" lengthAdjust="spacingAndGlyphs">12/9</text>
<text x="273.1" y="633.7" fill="#3d3d3d" textLength="45.5" lengthAdjust="spacingAndGlyphs">12/11</text>
<text x="359.6" y="633.7" fill="#636363" textLength="48.7" lengthAdjust="spacingAndGlyphs">12:00</text>
<text x="461.1" y="633.7" fill="#3d3d3d" textLength="47.9" lengthAdjust="spacingAndGlyphs">12/16</text>
<text x="565.6" y="633.7" fill="#3d3d3d" textLength="50.1" lengthAdjust="spacingAndGlyphs">12/18</text>
<text x="654.6" y="633.7" fill="#636363" textLength="48.4" lengthAdjust="spacingAndGlyphs">14:00</text>
<text x="739.9" y="633.7" fill="#3d3d3d" textLength="53.1" lengthAdjust="spacingAndGlyphs">12/23</text>
<text x="845.6" y="633.7" fill="#3d3d3d" textLength="53.1" lengthAdjust="spacingAndGlyphs">12/25</text>
<text x="937.6" y="633.7" fill="#636363" textLength="48.4" lengthAdjust="spacingAndGlyphs">16:00</text>
<text x="1022.6" y="633.7" fill="#3d3d3d" textLength="54.1" lengthAdjust="spacingAndGlyphs">12/30</text>
<text x="1156.0" y="633.7" text-anchor="middle" fill="#3d3d3d">月 '25</text>
<text x="1221.3" y="633.7" fill="#3d3d3d" textLength="30.4" lengthAdjust="spacingAndGlyphs">1/3</text>
<text x="1302.6" y="633.7" fill="#636363" textLength="45.5" lengthAdjust="spacingAndGlyphs">15:00</text>
</g>
<g id="ylabels">
<text x="1333.6" y="177.0" fill="#454545" textLength="62.3" lengthAdjust="spacingAndGlyphs">7.3500</text>
<text x="1333.6" y="265.1" fill="#454545" textLength="62.3" lengthAdjust="spacingAndGlyphs">7.3250</text>
<text x="1333.6" y="353.1" fill="#454545" textLength="62.3" lengthAdjust="spacingAndGlyphs">7.3000</text>
<text x="1333.6" y="441.2" fill="#454545" textLength="61.4" lengthAdjust="spacingAndGlyphs">7.2750</text>
<text x="1333.6" y="529.5" fill="#454545" textLength="61.4" lengthAdjust="spacingAndGlyphs">7.2500</text>
</g>
<rect x="1324.6" y="261.3" width="72" height="27.6" fill="#222"/>
<text x="1333.4" y="284.9" fill="#fff" style="font-size:20px" textLength="58.6" lengthAdjust="spacingAndGlyphs">7.3199</text>
</svg>
</body>
</html>
